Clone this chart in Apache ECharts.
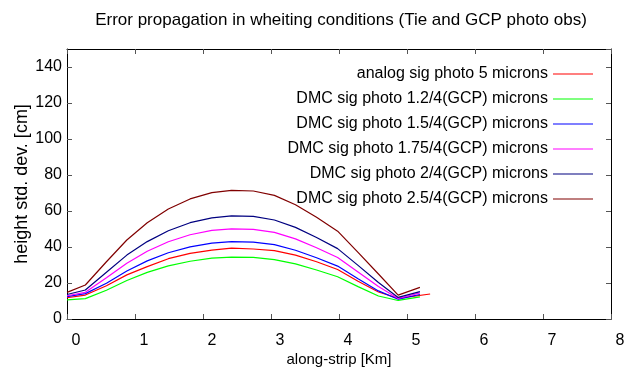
<!DOCTYPE html>
<html>
<head>
<meta charset="utf-8">
<script src="https://cdn.jsdelivr.net/npm/echarts@6/dist/echarts.min.js"></script>
<style>
  html, body { margin: 0; padding: 0; background: #fff }
  #chart { width: 634px; height: 372px }
</style>
</head>
<body>
<div id="chart"></div>
<script>
// along-strip positions [Km]
const xKm = [0, 0.27, 0.58, 0.88, 1.18, 1.49, 1.81, 2.13, 2.42, 2.74, 3.05, 3.36, 3.67, 3.98, 4.28, 4.58, 4.87, 5.19]
const xKmAnalog = [0, 0.27, 0.58, 0.88, 1.18, 1.49, 1.81, 2.13, 2.42, 2.74, 3.05, 3.36, 3.67, 3.98, 4.28, 4.58, 4.87, 5.34]

// height std. dev. [cm]
const analog5 = [11.8, 13.3, 18.5, 24.5, 29.1, 33.5, 36.5, 38.3, 39.4, 38.9, 38.0, 35.5, 31.8, 27.5, 21.0, 15.0, 11.5, 13.9]
const dmc12 = [10.6, 11.3, 16.0, 21.4, 25.9, 29.5, 32.1, 33.8, 34.4, 34.2, 33.0, 30.6, 27.2, 23.5, 18.0, 12.8, 10.3, 12.3]
const dmc15 = [12.4, 14.1, 19.9, 26.7, 32.3, 36.8, 40.1, 42.2, 43.0, 42.7, 41.3, 38.2, 34.0, 29.4, 22.4, 15.6, 11.0, 13.6]
const dmc175 = [12.9, 14.8, 22.9, 31.0, 37.6, 42.9, 46.8, 49.2, 50.1, 49.8, 48.1, 44.5, 39.6, 34.2, 26.1, 18.0, 11.4, 14.5]
const dmc2 = [13.6, 16.1, 26.0, 35.5, 43.0, 49.0, 53.5, 56.2, 57.3, 57.0, 55.0, 50.9, 45.3, 39.1, 29.8, 20.3, 12.0, 15.2]
const dmc25 = [14.8, 18.9, 31.8, 43.9, 53.5, 61.1, 66.7, 70.2, 71.5, 71.1, 68.7, 63.5, 56.5, 48.8, 37.0, 25.0, 13.3, 17.6]

const seriesNames = [
  'analog sig photo 5 microns',
  'DMC sig photo 1.2/4(GCP) microns',
  'DMC sig photo 1.5/4(GCP) microns',
  'DMC sig photo 1.75/4(GCP) microns',
  'DMC sig photo 2/4(GCP) microns',
  'DMC sig photo 2.5/4(GCP) microns'
]
const seriesColors = ['#ff0000', '#00ff00', '#0000ff', '#ff00ff', '#000080', '#800000']
const seriesX = [xKmAnalog, xKm, xKm, xKm, xKm, xKm]
const seriesY = [analog5, dmc12, dmc15, dmc175, dmc2, dmc25]

const FONT = 'Liberation Sans, Arial, sans-serif'

const chart = echarts.init(document.getElementById('chart'))

const xCommon = {
  type: 'value', min: 0, max: 8, interval: 1,
  axisLine: { show: true, onZero: false, lineStyle: { color: '#000', width: 1 } },
  axisTick: { show: true, inside: true, length: 5, lineStyle: { color: '#555' } },
  splitLine: { show: false }
}
const yCommon = {
  type: 'value', min: 0, max: 150, interval: 20,
  axisLine: { show: true, onZero: false, lineStyle: { color: '#000', width: 1 } },
  axisTick: { show: true, inside: true, length: 5, lineStyle: { color: '#555' } },
  splitLine: { show: false }
}

// one legend per row so the line samples line up on the right
const legendTops = [66, 91, 116, 141, 166, 191]
const legends = seriesNames.map((name, i) => ({
  data: [name],
  right: 41,
  top: legendTops[i],
  align: 'right',
  padding: 0,
  icon: 'rect',
  itemWidth: 40,
  itemHeight: 1,
  selectedMode: false,
  textStyle: { fontFamily: FONT, fontSize: 16, color: '#000' }
}))

const option = {
  animation: false,
  backgroundColor: '#fff',
  grid: { left: 67, right: 23, top: 49, bottom: 53, containLabel: false, outerBoundsMode: 'none' },
  graphic: [{
    type: 'text',
    x: 341, y: 20,
    style: {
      text: 'Error propagation in wheiting conditions (Tie and GCP photo obs)',
      font: '17px ' + FONT,
      fill: '#000',
      textAlign: 'center',
      textVerticalAlign: 'middle'
    }
  }],
  legend: legends,
  xAxis: [
    Object.assign({}, xCommon, {
      position: 'bottom',
      name: 'along-strip [Km]',
      nameLocation: 'middle',
      nameGap: 33,
      nameMoveOverlap: false,
      nameTextStyle: { fontFamily: FONT, fontSize: 15, color: '#000' },
      axisLabel: { fontFamily: FONT, fontSize: 16, color: '#000', margin: 14, padding: [0, 0, 0, 18] }
    }),
    Object.assign({}, xCommon, { position: 'top', axisLabel: { show: false } })
  ],
  yAxis: [
    Object.assign({}, yCommon, {
      position: 'left',
      name: 'height std. dev. [cm]',
      nameLocation: 'middle',
      nameGap: 36,
      nameMoveOverlap: false,
      nameTextStyle: { fontFamily: FONT, fontSize: 18, color: '#000' },
      axisLabel: { fontFamily: FONT, fontSize: 16, color: '#000', margin: 5, showMaxLabel: false }
    }),
    Object.assign({}, yCommon, { position: 'right', axisLabel: { show: false } })
  ],
  series: seriesNames.map((name, i) => ({
    name: name,
    type: 'line',
    xAxisIndex: 0,
    yAxisIndex: 0,
    showSymbol: false,
    symbol: 'none',
    lineStyle: { width: 1.2, color: seriesColors[i] },
    itemStyle: { color: seriesColors[i] },
    data: seriesX[i].map((x, k) => [x, seriesY[i][k]])
  }))
}

chart.setOption(option)
</script>
</body>
</html>
